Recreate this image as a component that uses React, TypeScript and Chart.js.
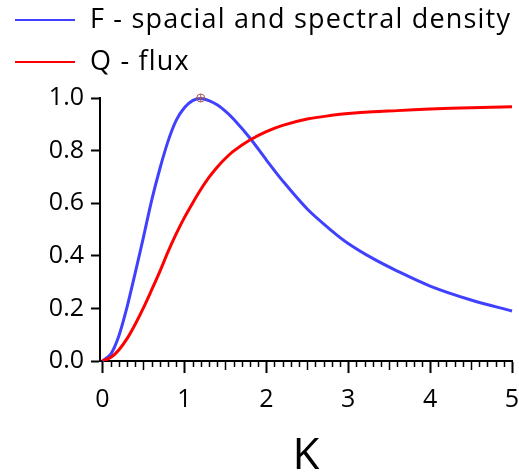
import React, { useEffect, useRef } from "react";
import { Chart, registerables } from "chart.js";

Chart.register(...registerables);

const kValues = [0, 0.1, 0.2, 0.3, 0.4, 0.5, 0.6, 0.7, 0.8, 0.9, 1.0, 1.1, 1.2, 1.3, 1.4, 1.5, 1.6, 1.8, 2.0, 2.2, 2.5, 2.8, 3.0, 3.3, 3.6, 4.0, 4.5, 5.0];
const fValues = [0, 0.025, 0.095, 0.205, 0.335, 0.47, 0.61, 0.73, 0.835, 0.915, 0.963, 0.99, 0.998, 0.99, 0.974, 0.95, 0.92, 0.848, 0.765, 0.685, 0.578, 0.495, 0.447, 0.39, 0.342, 0.285, 0.232, 0.19];
const qValues = [0, 0.013, 0.042, 0.085, 0.14, 0.202, 0.27, 0.34, 0.415, 0.483, 0.545, 0.6, 0.652, 0.698, 0.737, 0.77, 0.798, 0.84, 0.872, 0.896, 0.92, 0.934, 0.941, 0.948, 0.952, 0.958, 0.963, 0.967];
const peakK = [1.2];
const peakF = [1.0];
const seriesLabels = ["F - spacial and spectral density", "Q - flux"];
const xTickLabels = [0, 1, 2, 3, 4, 5];
const yTickLabels = [0, 0.2, 0.4, 0.6, 0.8, 1.0];
const xMinorStep = 0.1;

const FONT = "'Open Sans', sans-serif";
const BLUE = "rgb(64,64,255)";
const RED = "rgb(255,0,0)";

const legendPlugin = {
  id: "customLegend",
  afterDraw(chart: any) {
    const ctx = chart.ctx;
    const items = [
      { label: seriesLabels[0], color: BLUE, y: 20 },
      { label: seriesLabels[1], color: RED, y: 62 },
    ];
    ctx.save();
    ctx.font = `27px ${FONT}`;
    try { (ctx as any).letterSpacing = "1.2px"; } catch (e) {}
    ctx.textBaseline = "middle";
    ctx.fillStyle = "#000";
    items.forEach((it) => {
      ctx.strokeStyle = it.color;
      ctx.lineWidth = 2;
      ctx.beginPath();
      ctx.moveTo(15, it.y);
      ctx.lineTo(75, it.y);
      ctx.stroke();
      ctx.fillText(it.label, 90, it.y);
    });
    ctx.restore();
  },
};

const xTicksPlugin = {
  id: "xMinorTicks",
  afterDraw(chart: any) {
    const ctx = chart.ctx;
    const xs = chart.scales.x;
    const y0 = chart.chartArea.bottom + 1;
    ctx.save();
    ctx.strokeStyle = "#000";
    const n = Math.round(5 / xMinorStep);
    for (let i = 0; i <= n; i++) {
      const v = i * xMinorStep;
      const px = Math.round(xs.getPixelForValue(v)) + 0.5;
      const major = i % 10 === 0;
      const mid = i % 5 === 0;
      const len = major ? 11 : mid ? 8 : 5;
      ctx.lineWidth = major ? 2 : 1.5;
      ctx.beginPath();
      ctx.moveTo(px, y0);
      ctx.lineTo(px, y0 + len);
      ctx.stroke();
    }
    ctx.restore();
  },
};

export default function App() {
  const ref = useRef<HTMLCanvasElement>(null);
  useEffect(() => {
    if (!ref.current) return;
    const fData = kValues.map((k, i) => ({ x: k, y: fValues[i] }));
    const qData = kValues.map((k, i) => ({ x: k, y: qValues[i] }));
    const peak = peakK.map((k, i) => ({ x: k, y: peakF[i] }));
    const chart = new Chart(ref.current, {
      type: "line",
      data: {
        datasets: [
          { label: seriesLabels[0], data: fData, borderColor: BLUE, borderWidth: 3, pointRadius: 0, tension: 0.3, fill: false, clip: false, order: 2 },
          { label: seriesLabels[1], data: qData, borderColor: RED, borderWidth: 3, pointRadius: 0, tension: 0.3, fill: false, order: 1 },
          { label: "peak", data: peak, showLine: false, pointStyle: "circle", pointRadius: 4, borderColor: "#a05a55", backgroundColor: "rgba(0,0,0,0)", pointBorderWidth: 1, clip: false, order: -1 },
          { label: "peak+", data: peak, showLine: false, pointStyle: "cross", pointRadius: 4, borderColor: "#a05a55", pointBorderWidth: 1, clip: false, order: -2 },
        ],
      } as any,
      options: {
        animation: false,
        responsive: false,
        layout: { padding: { top: 98, left: 0, right: 7, bottom: 0 } },
        plugins: { legend: { display: false }, tooltip: { enabled: false } },
        scales: {
          x: {
            type: "linear",
            min: -0.03,
            max: 5,
            afterBuildTicks(scale: any) {
              scale.ticks = xTickLabels.map((v) => ({ value: v }));
            },
            afterFit(scale: any) {
              scale.height = 113;
              scale.paddingRight = 0;
              scale.paddingLeft = 0;
            },
            grid: { display: true, drawOnChartArea: false, tickLength: 14, tickColor: "rgba(0,0,0,0)" },
            border: { display: true, color: "#000", width: 2 },
            ticks: { font: { family: FONT, size: 25 }, color: "#000", padding: 10, maxRotation: 0, callback: (v: any) => String(v) },
            title: { display: true, text: "K", font: { family: FONT, size: 44, lineHeight: 1 }, color: "#000", padding: { top: 0, bottom: -4 } },
          },
          y: {
            type: "linear",
            min: 0,
            max: 1,
            afterBuildTicks(scale: any) {
              scale.ticks = yTickLabels.map((v) => ({ value: v }));
            },
            afterFit(scale: any) {
              scale.width = 100;
              scale.paddingTop = 0;
              scale.paddingBottom = 0;
            },
            grid: { display: true, drawOnChartArea: false, tickLength: 9, tickColor: "#000", tickWidth: 2 },
            border: { display: true, color: "#000", width: 2 },
            ticks: { font: { family: FONT, size: 25 }, color: "#000", padding: 7, callback: (v: any) => Number(v).toFixed(1) },
          },
        },
      },
      plugins: [legendPlugin, xTicksPlugin],
    });
    return () => chart.destroy();
  }, []);
  return (
    <div style={{ position: "fixed", left: 0, top: 0, width: 519, height: 474, background: "#fff" }}>
      <canvas ref={ref} width={519} height={474} style={{ display: "block" }} />
    </div>
  );
}
